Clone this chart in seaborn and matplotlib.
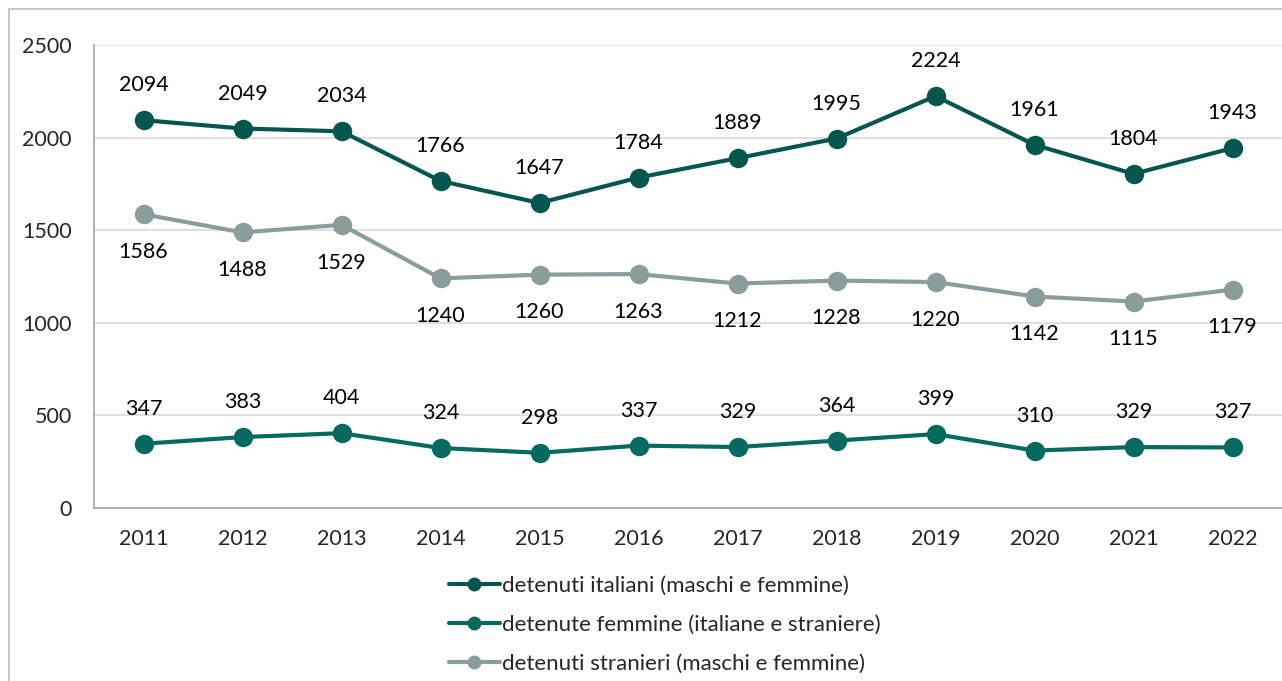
import numpy as np
import pandas as pd
import matplotlib.pyplot as plt
import seaborn as sns
from matplotlib.patches import Rectangle

years = [2011, 2012, 2013, 2014, 2015, 2016, 2017, 2018, 2019, 2020, 2021, 2022]
italiani = [2094, 2049, 2034, 1766, 1647, 1784, 1889, 1995, 2224, 1961, 1804, 1943]
femmine = [347, 383, 404, 324, 298, 337, 329, 364, 399, 310, 329, 327]
stranieri = [1586, 1488, 1529, 1240, 1260, 1263, 1212, 1228, 1220, 1142, 1115, 1179]

series_names = ["detenuti italiani (maschi e femmine)",
                "detenute femmine (italiane e straniere)",
                "detenuti stranieri (maschi e femmine)"]
colors = ["#06564F", "#076A61", "#899E9B"]

df = pd.concat([
    pd.DataFrame({"anno": years, "valore": italiani, "serie": series_names[0]}),
    pd.DataFrame({"anno": years, "valore": femmine, "serie": series_names[1]}),
    pd.DataFrame({"anno": years, "valore": stranieri, "serie": series_names[2]}),
])

sns.set_style("white")
plt.rcParams["font.family"] = ["Lato", "DejaVu Sans"]
fs = 15.5

fig = plt.figure(figsize=(12.82, 6.81), dpi=100)
ax = fig.add_axes([94 / 1282, 1 - 508 / 681, 1 - 94 / 1282, (508 - 45) / 681])

sns.lineplot(data=df, x="anno", y="valore", hue="serie", hue_order=series_names,
             palette=colors, marker="o", markersize=14, linewidth=3,
             markeredgewidth=0, ax=ax, legend=False)

# data labels
offsets = {series_names[0]: 18, series_names[1]: 18, series_names[2]: -20}
for name, vals in zip(series_names, [italiani, femmine, stranieri]):
    for x, v in zip(years, vals):
        ax.annotate(str(v), (x, v), xytext=(0, offsets[name]), textcoords="offset points",
                    ha="center", va="bottom" if offsets[name] > 0 else "top",
                    fontsize=fs, color="black")

ax.set_xlim(2010.5, 2022.5)
ax.set_ylim(0, 2500)
ax.set_xticks(years)
ax.set_xticklabels([str(y) for y in years])
ax.set_xticks(np.arange(2010.5, 2023, 1), minor=True)
ax.set_yticks(np.arange(0, 2501, 500))
ax.tick_params(axis="x", which="major", length=0, pad=15, labelsize=fs)
ax.tick_params(axis="x", which="minor", length=6, color="#A6A6A6", width=1.2)
ax.tick_params(axis="y", length=6, color="#A6A6A6", width=1.2, pad=10, labelsize=fs)
ax.grid(axis="y", color="#D9D9D9", linewidth=1.2)
ax.set_axisbelow(True)
ax.set_xlabel("")
ax.set_ylabel("")
for s in ["top", "right"]:
    ax.spines[s].set_visible(False)
for s in ["left", "bottom"]:
    ax.spines[s].set_color("#A6A6A6")
    ax.spines[s].set_linewidth(1.2)

# legend
handles = [plt.Line2D([], [], color=c, linewidth=3, marker="o", markersize=9) for c in colors]
fig.legend(handles, series_names, loc="upper left", bbox_to_anchor=(440 / 1282, 1 - 567 / 681),
           frameon=False, fontsize=16, handlelength=2.3, handletextpad=0.1, labelspacing=0.85,
           borderaxespad=0)

# chart border
fig.patches.append(Rectangle((9 / 1282, -0.2), 1.2, 1.2 - 9 / 681, transform=fig.transFigure,
                             fill=False, edgecolor="#BFBFBF", linewidth=1.2))

fig.savefig("out.png", dpi=100)
